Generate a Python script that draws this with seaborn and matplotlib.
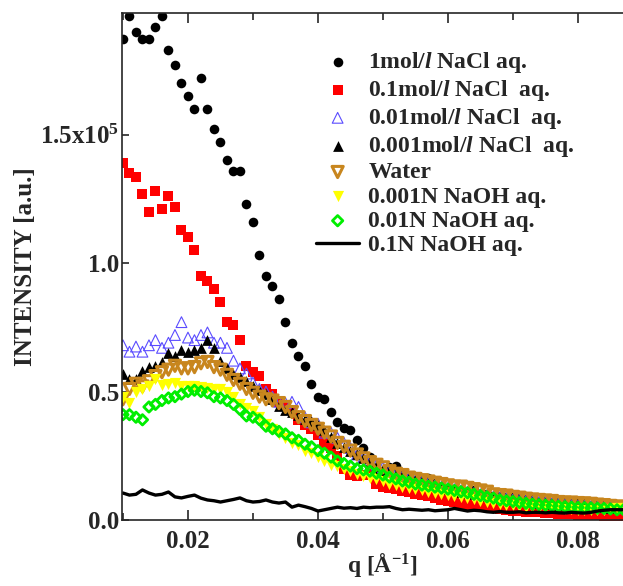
import matplotlib
matplotlib.use("Agg")
import matplotlib.pyplot as plt
import seaborn as sns
from matplotlib.ticker import MultipleLocator, FixedLocator, FixedFormatter

# q values [1/A]
q = [0.010, 0.011, 0.012, 0.013, 0.014, 0.015, 0.016, 0.017, 0.018, 0.019,
     0.020, 0.021, 0.022, 0.023, 0.024, 0.025, 0.026, 0.027, 0.028, 0.029,
     0.030, 0.031, 0.032, 0.033, 0.034, 0.035, 0.036, 0.037, 0.038, 0.039,
     0.040, 0.041, 0.042, 0.043, 0.044, 0.045, 0.046, 0.047, 0.048, 0.049,
     0.050, 0.051, 0.052, 0.053, 0.054, 0.055, 0.056, 0.057, 0.058, 0.059,
     0.060, 0.061, 0.062, 0.063, 0.064, 0.065, 0.066, 0.067, 0.068, 0.069,
     0.070, 0.071, 0.072, 0.073, 0.074, 0.075, 0.076, 0.077, 0.078, 0.079,
     0.080, 0.081, 0.082, 0.083, 0.084, 0.085, 0.086, 0.087]

# intensities in units of 1e5
nacl_1 = [1.87, 1.96, 1.90, 1.87, 1.87, 1.92, 1.96, 1.83, 1.77, 1.70,
          1.65, 1.60, 1.72, 1.60, 1.52, 1.47, 1.40, 1.36, 1.36, 1.23,
          1.16, 1.03, 0.95, 0.91, 0.86, 0.77, 0.69, 0.64, 0.60, 0.53,
          0.48, 0.47, 0.42, 0.38, 0.36, 0.35, 0.31, 0.28, 0.245, 0.20,
          0.19, 0.205, 0.21, 0.18, 0.165, 0.156, 0.16, 0.165, 0.145, 0.13,
          0.125, 0.115, 0.11, 0.11, 0.115, 0.10, 0.10, 0.095, 0.095, 0.09,
          0.09, 0.085, 0.08, 0.08, 0.075, 0.075, 0.07, 0.07, 0.07, 0.068,
          0.065, 0.065, 0.06, 0.06, 0.058, 0.055, 0.05, 0.05]
nacl_01 = [1.39, 1.35, 1.335, 1.27, 1.20, 1.28, 1.21, 1.26, 1.22, 1.13,
           1.10, 1.05, 0.95, 0.93, 0.90, 0.85, 0.77, 0.76, 0.70, 0.60,
           0.575, 0.56, 0.51, 0.49, 0.46, 0.445, 0.43, 0.39, 0.37, 0.355,
           0.33, 0.30, 0.28, 0.25, 0.20, 0.175, 0.17, 0.175, 0.19, 0.14,
           0.13, 0.125, 0.12, 0.112, 0.108, 0.10, 0.097, 0.095, 0.085, 0.078,
           0.075, 0.07, 0.062, 0.058, 0.055, 0.05, 0.05, 0.045, 0.042, 0.04,
           0.037, 0.035, 0.033, 0.03, 0.03, 0.028, 0.026, 0.025, 0.022, 0.022,
           0.02, 0.02, 0.018, 0.02, 0.015, 0.008, 0.005, 0.005]
nacl_001 = [0.68, 0.655, 0.675, 0.655, 0.68, 0.70, 0.67, 0.69, 0.72, 0.77,
            0.71, 0.70, 0.72, 0.73, 0.69, 0.69, 0.67, 0.62, 0.59, 0.57,
            0.535, 0.51, 0.50, 0.48, 0.46, 0.455, 0.46, 0.44, 0.40, 0.38,
            0.375, 0.34, 0.34, 0.32, 0.30, 0.28, 0.255, 0.245, 0.23, 0.215,
            0.205, 0.19, 0.18, 0.17, 0.165, 0.155, 0.15, 0.145, 0.135, 0.13,
            0.125, 0.12, 0.115, 0.11, 0.105, 0.10, 0.095, 0.09, 0.088, 0.085,
            0.08, 0.078, 0.075, 0.072, 0.07, 0.068, 0.065, 0.063, 0.06, 0.058,
            0.056, 0.055, 0.053, 0.052, 0.05, 0.048, 0.047, 0.046]
nacl_0001 = [0.57, 0.55, 0.55, 0.58, 0.595, 0.60, 0.615, 0.65, 0.64, 0.66,
             0.655, 0.66, 0.67, 0.70, 0.67, 0.62, 0.59, 0.57, 0.555, 0.54,
             0.52, 0.505, 0.49, 0.47, 0.445, 0.43, 0.42, 0.41, 0.395, 0.385,
             0.37, 0.35, 0.325, 0.30, 0.285, 0.27, 0.255, 0.24, 0.225, 0.21,
             0.20, 0.19, 0.18, 0.17, 0.16, 0.155, 0.15, 0.14, 0.135, 0.13,
             0.12, 0.115, 0.11, 0.105, 0.10, 0.097, 0.093, 0.09, 0.085, 0.082,
             0.08, 0.076, 0.073, 0.07, 0.068, 0.066, 0.063, 0.06, 0.058, 0.056,
             0.055, 0.053, 0.052, 0.05, 0.049, 0.048, 0.046, 0.045]
water = [0.47, 0.51, 0.53, 0.52, 0.54, 0.56, 0.575, 0.585, 0.60, 0.59,
         0.59, 0.595, 0.61, 0.615, 0.595, 0.585, 0.565, 0.545, 0.53, 0.51,
         0.495, 0.48, 0.47, 0.465, 0.455, 0.44, 0.42, 0.40, 0.385, 0.37,
         0.355, 0.34, 0.325, 0.30, 0.285, 0.27, 0.255, 0.24, 0.225, 0.215,
         0.205, 0.19, 0.18, 0.175, 0.165, 0.16, 0.155, 0.15, 0.145, 0.14,
         0.135, 0.13, 0.13, 0.125, 0.12, 0.115, 0.11, 0.10, 0.097, 0.095,
         0.09, 0.087, 0.083, 0.08, 0.078, 0.076, 0.074, 0.07, 0.068, 0.068,
         0.066, 0.065, 0.063, 0.06, 0.058, 0.055, 0.053, 0.05]
naoh_0001 = [0.48, 0.455, 0.50, 0.51, 0.52, 0.55, 0.525, 0.53, 0.535, 0.52,
             0.52, 0.52, 0.518, 0.515, 0.51, 0.51, 0.50, 0.48, 0.45, 0.435,
             0.425, 0.40, 0.375, 0.355, 0.335, 0.32, 0.30, 0.29, 0.27, 0.26,
             0.245, 0.23, 0.215, 0.21, 0.20, 0.19, 0.18, 0.17, 0.165, 0.158,
             0.15, 0.14, 0.135, 0.13, 0.125, 0.12, 0.115, 0.11, 0.105, 0.10,
             0.098, 0.094, 0.09, 0.086, 0.082, 0.075, 0.07, 0.066, 0.063, 0.06,
             0.058, 0.055, 0.052, 0.05, 0.048, 0.047, 0.046, 0.045, 0.043, 0.042,
             0.04, 0.04, 0.039, 0.039, 0.04, 0.043, 0.046, 0.047]
naoh_001 = [0.41, 0.41, 0.40, 0.39, 0.44, 0.45, 0.465, 0.475, 0.48, 0.49,
            0.50, 0.505, 0.50, 0.495, 0.48, 0.475, 0.465, 0.45, 0.43, 0.405,
            0.40, 0.39, 0.365, 0.355, 0.345, 0.335, 0.32, 0.31, 0.295, 0.285,
            0.27, 0.26, 0.245, 0.23, 0.22, 0.21, 0.20, 0.195, 0.19, 0.182,
            0.175, 0.167, 0.16, 0.152, 0.147, 0.14, 0.136, 0.132, 0.128, 0.124,
            0.12, 0.115, 0.11, 0.106, 0.10, 0.095, 0.09, 0.085, 0.078, 0.075,
            0.072, 0.068, 0.065, 0.062, 0.06, 0.058, 0.056, 0.054, 0.052, 0.05,
            0.049, 0.048, 0.047, 0.046, 0.045, 0.043, 0.04, 0.04]
naoh_01 = [0.105, 0.097, 0.10, 0.117, 0.105, 0.097, 0.10, 0.109, 0.09, 0.086,
           0.092, 0.097, 0.085, 0.078, 0.075, 0.07, 0.075, 0.08, 0.086, 0.075,
           0.07, 0.072, 0.078, 0.07, 0.066, 0.07, 0.05, 0.058, 0.052, 0.045,
           0.035, 0.04, 0.045, 0.05, 0.046, 0.048, 0.045, 0.05, 0.048, 0.05,
           0.05, 0.052, 0.045, 0.04, 0.042, 0.04, 0.038, 0.04, 0.036, 0.038,
           0.04, 0.045, 0.04, 0.035, 0.038, 0.036, 0.032, 0.03, 0.033, 0.03,
           0.03, 0.032, 0.028, 0.03, 0.03, 0.028, 0.03, 0.028, 0.027, 0.03,
           0.028, 0.027, 0.03, 0.035, 0.038, 0.04, 0.04, 0.04]

labels = ["1mol/$l$ NaCl aq.", "0.1mol/$l$ NaCl  aq.", "0.01mol/$l$ NaCl  aq.",
          "0.001mol/$l$ NaCl  aq.", "Water", "0.001N NaOH aq.",
          "0.01N NaOH aq.", "0.1N NaOH aq."]

sns.set_style("ticks")
plt.rcParams["font.family"] = ["Liberation Serif", "DejaVu Serif"]
plt.rcParams["font.weight"] = "bold"
plt.rcParams["mathtext.fontset"] = "custom"
plt.rcParams["mathtext.rm"] = "Liberation Serif:bold"
plt.rcParams["mathtext.bf"] = "Liberation Serif:bold"
plt.rcParams["mathtext.it"] = "Liberation Serif:italic:bold"
plt.rcParams["axes.linewidth"] = 1.2

fig = plt.figure(figsize=(6.23, 5.86), dpi=100)
ax = fig.add_axes([0.1958, 0.1126, 0.8363, 0.8652])

sns.scatterplot(x=q, y=nacl_1, ax=ax, marker="o", s=48, color="black",
                edgecolor="black", linewidth=0, label=labels[0])
sns.scatterplot(x=q, y=nacl_01, ax=ax, marker="s", s=48, color="#ff0000",
                edgecolor="#ff0000", linewidth=0, label=labels[1])
sns.scatterplot(x=q, y=nacl_001, ax=ax, marker="^", s=60, facecolor="none",
                edgecolor="#5a4bff", linewidth=0.8, label=labels[2])
sns.scatterplot(x=q, y=nacl_0001, ax=ax, marker="^", s=60, color="black",
                edgecolor="black", linewidth=0, label=labels[3])
sns.scatterplot(x=q, y=water, ax=ax, marker="v", s=65, facecolor="none",
                edgecolor="#c8861e", linewidth=2.2, label=labels[4])
sns.scatterplot(x=q, y=naoh_0001, ax=ax, marker="v", s=65, color="#ffff00",
                edgecolor="#ffff00", linewidth=0, label=labels[5])
sns.scatterplot(x=q, y=naoh_001, ax=ax, marker="D", s=28, facecolor="none",
                edgecolor="#00ee00", linewidth=2.0, label=labels[6])
sns.lineplot(x=q, y=naoh_01, ax=ax, color="black", linewidth=2.4,
             label=labels[7])

ax.set_xlim(0.00985, 0.090)
ax.set_ylim(0.0, 1.973)
ax.xaxis.set_major_locator(MultipleLocator(0.02))
ax.xaxis.set_minor_locator(MultipleLocator(0.01))
ax.xaxis.set_major_formatter(plt.FuncFormatter(lambda v, p: f"{v:.2f}"))
ax.yaxis.set_major_locator(FixedLocator([0.0, 0.5, 1.0, 1.5]))
ax.yaxis.set_major_formatter(FixedFormatter(["0.0", "0.5", "1.0", "1.5x10$^5$"]))
ax.tick_params(axis="both", which="both", direction="in", top=True, right=True,
               labelsize=18, width=1.2)
ax.tick_params(axis="x", which="major", length=7, pad=7)
ax.tick_params(axis="x", which="minor", length=5)
ax.tick_params(axis="y", which="major", length=5, pad=2)

ax.set_xlabel("q [Å$^{-1}$]", fontsize=17, fontweight="bold", labelpad=-1)
ax.set_ylabel("INTENSITY [a.u.]", fontsize=18, fontweight="bold", labelpad=2)

handles, labs = ax.get_legend_handles_labels()
ax.legend(handles, labs, loc="upper left", bbox_to_anchor=(0.355, 0.945),
          frameon=False, fontsize=17, labelspacing=0.12, handlelength=1.8,
          handletextpad=0.4, borderaxespad=0)

fig.savefig("out.png", dpi=100)
